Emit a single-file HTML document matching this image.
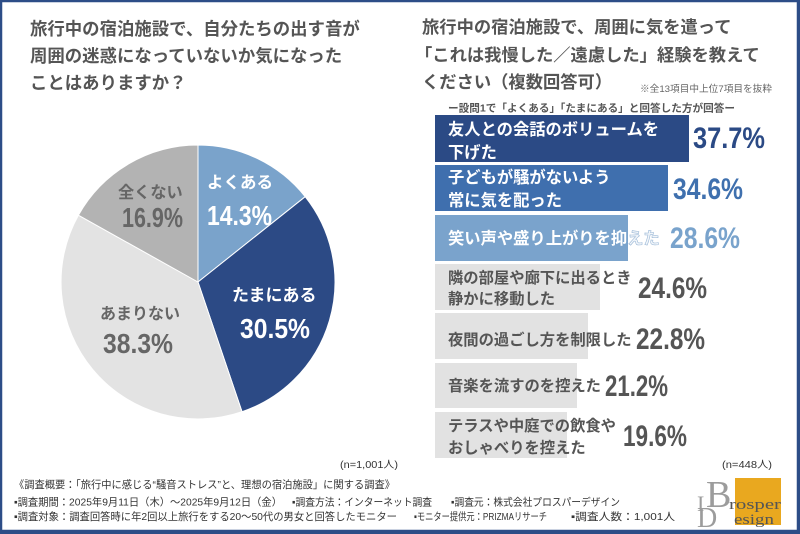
<!DOCTYPE html>
<html><head><meta charset="utf-8"><style>
html,body{margin:0;padding:0;background:#fff;}
svg{display:block;}
text{font-family:"Liberation Sans","Noto Sans CJK JP",sans-serif;}
.t{font-weight:bold;fill:#555;font-size:17.4px;}
.bl{font-weight:bold;font-size:16px;fill:#fff;}
.gl{font-weight:bold;font-size:15.3px;fill:#555;}
.pc{font-family:"Liberation Sans",sans-serif;font-weight:bold;font-size:30px;}
.pl{font-weight:bold;font-size:16.5px;}
.pp{font-family:"Liberation Sans",sans-serif;font-weight:bold;font-size:28px;}
.f{font-size:10.5px;fill:#333;}
</style></head><body>
<svg width="800" height="534" viewBox="0 0 800 534" xmlns="http://www.w3.org/2000/svg">
<rect x="0" y="0" width="800" height="534" fill="#fff"/>
<!-- border -->
<rect x="1" y="1" width="797" height="530" fill="none" stroke="#2d4d87" stroke-width="2.5"/>
<rect x="0" y="530" width="800" height="4" fill="#2d4d87"/>
<rect x="797" y="0" width="3" height="534" fill="#2d4d87"/>

<!-- left title -->
<text class="t" x="30" y="35">旅行中の宿泊施設で、自分たちの出す音が</text>
<text class="t" x="30" y="62">周囲の迷惑になっていないか気になった</text>
<text class="t" x="30" y="89">ことはありますか？</text>

<!-- pie -->
<g stroke="#fff" stroke-width="1">
<path d="M198,282 L198,145 A137,137 0 0 1 305.2,196.7 Z" fill="#7aa3cb"/>
<path d="M198,282 L305.2,196.7 A137,137 0 0 1 242,411.7 Z" fill="#2c4a85"/>
<path d="M198,282 L242,411.7 A137,137 0 0 1 78.4,215.2 Z" fill="#e3e3e3"/>
<path d="M198,282 L78.4,215.2 A137,137 0 0 1 198,145 Z" fill="#b3b3b3"/>
</g>
<text class="pl" x="207" y="188" fill="#fff">よくある</text>
<text class="pp" x="207" y="225" fill="#fff" textLength="65" lengthAdjust="spacingAndGlyphs">14.3%</text>
<text class="pl" x="232" y="301" fill="#fff" style="font-size:17px">たまにある</text>
<text class="pp" x="240" y="338" fill="#fff" textLength="70" lengthAdjust="spacingAndGlyphs">30.5%</text>
<text class="pl" x="100" y="319" fill="#666" style="font-size:16px">あまりない</text>
<text class="pp" x="103" y="353" fill="#666" textLength="70" lengthAdjust="spacingAndGlyphs">38.3%</text>
<text class="pl" x="118" y="198" fill="#666" style="font-size:16.2px">全くない</text>
<text class="pp" x="122" y="227" fill="#666" textLength="61" lengthAdjust="spacingAndGlyphs">16.9%</text>

<text class="f" x="340" y="468" fill="#444" style="font-size:10px" textLength="58" lengthAdjust="spacingAndGlyphs">(n=1,001人)</text>

<!-- right title -->
<text class="t" x="422" y="33" style="font-size:17.3px">旅行中の宿泊施設で、周囲に気を遣って</text>
<text class="t" x="415" y="61" style="font-size:17.3px">「これは我慢した／遠慮した」経験を教えて</text>
<text class="t" x="422" y="88" style="font-size:17.3px">ください（複数回答可）</text>
<text x="640" y="92" style="font-size:9.5px;fill:#666" textLength="132" lengthAdjust="spacingAndGlyphs">※全13項目中上位7項目を抜粋</text>
<text x="448" y="111.5" style="font-size:10.5px;fill:#555;font-weight:bold" textLength="287" lengthAdjust="spacingAndGlyphs">ー設問1で「よくある」「たまにある」と回答した方が回答ー</text>

<!-- bars -->
<rect x="435" y="115" width="254" height="47" fill="#2b4a85"/>
<rect x="435" y="165" width="233" height="46" fill="#3f6fae"/>
<rect x="435" y="215" width="193" height="46" fill="#7aa3cc"/>
<rect x="435" y="264" width="165" height="46" fill="#e2e2e2"/>
<rect x="435" y="313" width="153" height="46" fill="#e2e2e2"/>
<rect x="435" y="363" width="142" height="45" fill="#e2e2e2"/>
<rect x="435" y="412" width="132" height="46" fill="#e2e2e2"/>

<text class="bl" x="448" y="135" style="font-size:16.3px">友人との会話のボリュームを</text>
<text class="bl" x="448" y="158" style="font-size:16.3px">下げた</text>
<text class="pc" x="693" y="148" fill="#2b4a85" textLength="72" lengthAdjust="spacingAndGlyphs">37.7%</text>

<text class="bl" x="448" y="183" style="font-size:16.3px">子どもが騒がないよう</text>
<text class="bl" x="448" y="206" style="font-size:16.3px">常に気を配った</text>
<text class="pc" x="673" y="199" fill="#3f70ae" textLength="70" lengthAdjust="spacingAndGlyphs">34.6%</text>

<text class="bl" x="448" y="244" style="font-size:16.3px">笑い声や盛り上がりを抑<tspan fill="#f2f6fa" stroke="#9ab7d6" stroke-width="0.6">えた</tspan></text>
<text class="pc" x="670" y="248" fill="#79a3cc" textLength="70" lengthAdjust="spacingAndGlyphs">28.6%</text>

<text class="gl" x="448" y="283">隣の部屋や廊下に出るとき</text>
<text class="gl" x="448" y="304">静かに移動した</text>
<text class="pc" x="638" y="298" fill="#555" textLength="69" lengthAdjust="spacingAndGlyphs">24.6%</text>

<text class="gl" x="448" y="345">夜間の過ごし方を制限した</text>
<text class="pc" x="636" y="349" fill="#555" textLength="69" lengthAdjust="spacingAndGlyphs">22.8%</text>

<text class="gl" x="448" y="391">音楽を流すのを控えた</text>
<text class="pc" x="605" y="396" fill="#555" textLength="63" lengthAdjust="spacingAndGlyphs">21.2%</text>

<text class="gl" x="448" y="431">テラスや中庭での飲食や</text>
<text class="gl" x="448" y="453">おしゃべりを控えた</text>
<text class="pc" x="623" y="446" fill="#555" textLength="64" lengthAdjust="spacingAndGlyphs">19.6%</text>

<text class="f" x="722" y="468" fill="#444" style="font-size:10px" textLength="50" lengthAdjust="spacingAndGlyphs">(n=448人)</text>

<!-- footer -->
<text class="f" x="14" y="488" textLength="381" lengthAdjust="spacingAndGlyphs">《調査概要：「旅行中に感じる“騒音ストレス”と、理想の宿泊施設」に関する調査》</text>
<text class="f" x="14" y="505.5" textLength="268" lengthAdjust="spacingAndGlyphs">▪調査期間：2025年9月11日（木）～2025年9月12日（金）</text>
<text class="f" x="292" y="505.5" textLength="140" lengthAdjust="spacingAndGlyphs">▪調査方法：インターネット調査</text>
<text class="f" x="451" y="505.5" textLength="169" lengthAdjust="spacingAndGlyphs">▪調査元：株式会社プロスパーデザイン</text>
<text class="f" x="14" y="520" textLength="383" lengthAdjust="spacingAndGlyphs">▪調査対象：調査回答時に年2回以上旅行をする20～50代の男女と回答したモニター</text>
<text class="f" x="414" y="520" textLength="133" lengthAdjust="spacingAndGlyphs">▪モニター提供元：PRIZMAリサーチ</text>
<text class="f" x="571" y="520" textLength="104" lengthAdjust="spacingAndGlyphs">▪調査人数：1,001人</text>

<!-- logo -->
<rect x="735" y="478" width="46" height="47" fill="#e9a81f"/>
<text x="706" y="507" style="font-family:'Liberation Serif',serif;font-size:38px;fill:#9c9c9c">B</text>
<text x="697" y="511" style="font-family:'Liberation Serif',serif;font-size:22px;fill:#9c9c9c">I</text>
<text x="697" y="527" style="font-family:'Liberation Serif',serif;font-size:28px;fill:#9c9c9c">D</text>
<text x="729" y="509" style="font-family:'Liberation Serif',serif;font-size:15px;fill:#555" textLength="52" lengthAdjust="spacingAndGlyphs">rosper</text>
<text x="734" y="524" style="font-family:'Liberation Serif',serif;font-size:15px;fill:#555" textLength="40" lengthAdjust="spacingAndGlyphs">esign</text>
</svg>
</body></html>
